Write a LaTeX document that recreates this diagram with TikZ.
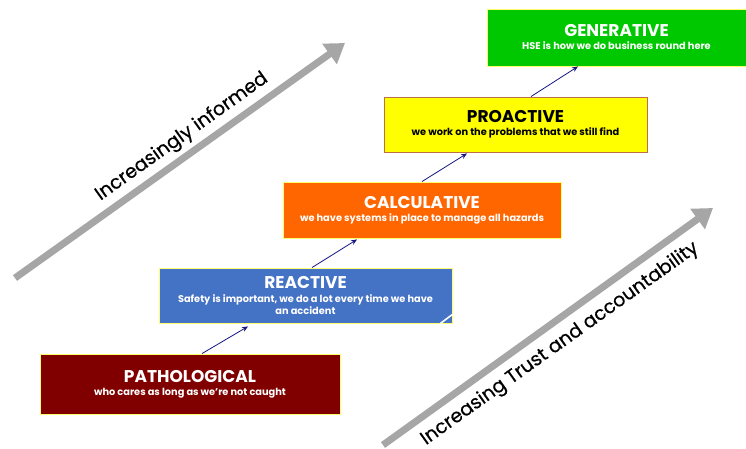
\documentclass[tikz,border=0pt]{standalone}
\usepackage{fontspec}
\setmainfont{Poppins}
\newfontfamily\trendfont[FakeBold=0.5]{Poppins}
\usetikzlibrary{arrows.meta}

\definecolor{pathred}{RGB}{128,0,0}
\definecolor{reactblue}{RGB}{68,114,196}
\definecolor{calcorange}{RGB}{255,102,0}
\definecolor{proyellow}{RGB}{255,255,0}
\definecolor{gengreen}{RGB}{0,200,0}
\definecolor{edgeyellow}{RGB}{255,255,110}
\definecolor{edgebrown}{RGB}{190,110,70}
\definecolor{trendgray}{RGB}{166,166,166}
\definecolor{linknavy}{RGB}{20,20,130}

\newcommand{\stageTitle}[1]{{\fontsize{17}{19}\selectfont\bfseries #1}}
\newcommand{\stageNote}[1]{{\fontsize{9.8}{14}\selectfont\bfseries #1}}

\tikzset{
  stage/.style={draw=edgeyellow, line width=0.9pt, inner sep=0pt,
    align=center, text=white},
  link/.style={draw=linknavy, line width=0.8pt, -{Stealth[length=6pt,width=5pt]}},
  trend/.style={draw=trendgray, line width=7pt,
    -{Triangle[length=19pt,width=24pt]}},
  trendlabel/.style={font=\trendfont\fontsize{19}{21}\selectfont, rotate=35.5, inner sep=0pt}
}

\begin{document}
\begin{tikzpicture}[x=1pt,y=-1pt]
\useasboundingbox (0,0) rectangle (746,449);

% rising trend arrows
\coordinate (infA) at (15,278);
\coordinate (infB) at (345,43);
\draw[trend] (infA) -- (infB);
\node[trendlabel] (inflabel) at (182,137) {Increasingly informed};

\coordinate (trA) at (383,445);
\coordinate (trB) at (713,208);
\draw[trend] (trA) -- (trB);
\node[trendlabel] (trlabel) at (560,344) {Increasing Trust and accountability};

% the five culture stages
\node[stage, fill=pathred, minimum width=300, minimum height=60] (path) at (190,384)
  {\stageTitle{PATHOLOGICAL}\\[1pt]\stageNote{who cares as long as we're not caught}};

\node[stage, fill=reactblue, minimum width=293, minimum height=55] (react) at (305.5,295.5)
  {\stageTitle{REACTIVE}\\[1.5pt]\stageNote{Safety is important, we do a lot every time we have}\\[0pt]\stageNote{an accident}};
\draw[white, line width=1.6pt] ([xshift=-12pt]react.south east) -- ([yshift=9pt]react.south east);

\node[stage, fill=calcorange, minimum width=278, minimum height=56] (calc) at (422,210)
  {\stageTitle{CALCULATIVE}\\[1pt]\stageNote{we have systems in place to manage all hazards}};

\node[stage, draw=edgebrown, fill=proyellow, text=black, minimum width=263, minimum height=55] (pro) at (515.5,124.5)
  {\stageTitle{PROACTIVE}\\[1pt]\stageNote{we work on the problems that we still find}};

\node[stage, fill=gengreen, minimum width=259, minimum height=57] (gen) at (616.5,37.5)
  {\stageTitle{GENERATIVE}\\[1pt]\stageNote{HSE is how we do business round here}};

% steps between stages
\draw[link] ([xshift=12pt]path.north) -- ([xshift=-57.5pt,yshift=-3pt]react.south);
\draw[link] ([xshift=6.5pt]react.north) -- ([xshift=-65pt,yshift=-1pt]calc.south);
\draw[link] (calc.north) -- ([xshift=-48.5pt,yshift=-1pt]pro.south);
\draw[link] ([xshift=15.5pt]pro.north) -- ([xshift=-38.5pt]gen.south);
\end{tikzpicture}
\end{document}
